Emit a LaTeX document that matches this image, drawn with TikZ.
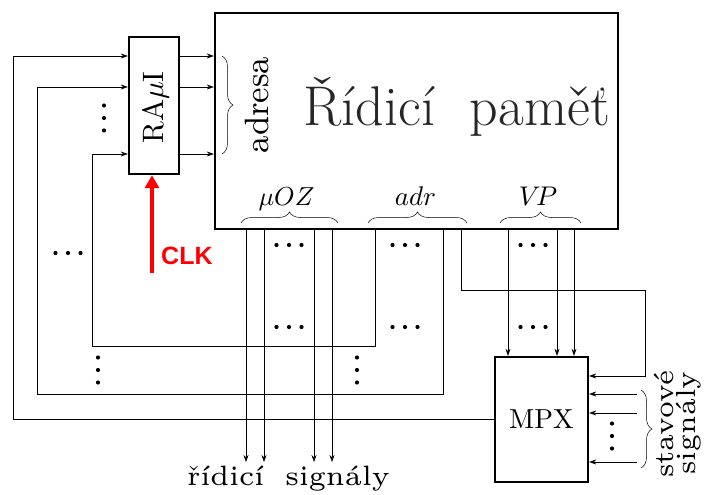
\documentclass[tikz,border=0pt]{standalone}
\usepackage{fontspec}
\newfontfamily\clkfont{Liberation Sans}
\usetikzlibrary{arrows.meta, positioning, decorations.pathreplacing}

% text set at a small design size, then enlarged
\newcommand{\bigtxt}[3]{\scalebox{#2}{\fontsize{#1}{#1}\selectfont #3}}

\begin{document}
\begin{tikzpicture}[x=1pt, y=-1pt,
    box/.style={draw, line width=2.4pt, inner sep=0pt},
    wire/.style={line width=0.6pt},
    arrow/.style={wire, -{Stealth[length=7pt, width=5pt]}},
    clkarrow/.style={red, line width=4.5pt, -{Triangle[length=13pt, width=14pt]}},
    brace/.style={decorate, decoration={brace, amplitude=11pt}, line width=0.5pt},
    lbl/.style={inner sep=0pt},
    dot/.style={circle, fill, inner sep=0pt, minimum size=4.2pt},
]
\useasboundingbox (0,0) rectangle (705,495);

% Boxes
\node[box, minimum width=403pt, minimum height=216pt] (mem) at (416.5,121) {};
\node[box, minimum width=50pt, minimum height=137pt] (ra) at (154,105.5) {};
\node[box, minimum width=93pt, minimum height=125pt] (mpx) at (541.5,419.5) {};

% Texts
\node[lbl, anchor=base, text=black!85, font=\fontsize{56}{60}\selectfont] (title) at (457,125) {Řídicí\hspace{0.62em}paměť};
\node[lbl, rotate=90, anchor=base] (ralbl) at (163,107.5) {\bigtxt{10}{2.95}{RA$\mu$I}};
\node[lbl] (mpxlbl) at (mpx) {\bigtxt{10}{2.75}{MPX}};
\node[lbl, rotate=90, anchor=base] (adresa) at (268,105) {\bigtxt{9}{3.75}{adresa}};
\node[lbl, anchor=base] (muoz) at (286.5,205) {\bigtxt{10}{2.6}{$\mu OZ$}};
\node[lbl, anchor=base] (adr) at (415.5,205) {\bigtxt{10}{2.7}{$adr$}};
\node[lbl, anchor=base] (vp) at (538,205) {\bigtxt{10}{2.7}{$V\mkern-3mu P$}};
\node[lbl, anchor=base] (ridsig) at (288.5,485) {\bigtxt{6}{4.667}{řídicí\hspace{0.75em}signály}};
\node[lbl, rotate=90, anchor=base] (stav) at (673,424) {\bigtxt{6}{4.6}{stavové}};
\node[lbl, rotate=90, anchor=base] (sig) at (695,423) {\bigtxt{6}{4.6}{signály}};
\node[lbl, anchor=base west, text=red, font=\clkfont\bfseries\fontsize{25}{28}\selectfont] (clk) at (161,264) {CLK};

% Register <-> memory
\foreach \y/\n in {56/1, 87/2, 154/3} {
  \coordinate (in\n) at (ra.west |- 0,\y);
  \coordinate (out\n) at (ra.east |- 0,\y);
  \draw[arrow] (out\n) -- (mem.west |- out\n);
}
\coordinate (clktail) at (152,273);
\draw[clkarrow] (clktail) -- (ra.south -| clktail);

% Feedback loops
\draw[arrow] (mpx.west) -| (in1 -| 13,0) -- (in1);
\draw[arrow] (mem.south -| 443,0) -- (443,394) -| (in2 -| 37,0) -- (in2);
\draw[arrow] (mem.south -| 375,0) -- (375,346) -| (in3 -| 92,0) -- (in3);
\draw[arrow] (mem.south -| 461,0) -- (461,290) -| (645,376) -- (mpx.east |- 0,376);

% Control signals
\foreach \x in {246,264,314,332}
  \draw[arrow] (mem.south -| \x,0) -- (\x,462);
% VP to multiplexer
\foreach \x in {508,557,574}
  \draw[arrow] (mem.south -| \x,0) -- (mpx.north -| \x,0);
% Status signals
\foreach \y in {394,413,462}
  \draw[arrow] (637,\y) -- (mpx.east |- 0,\y);

% Braces
\draw[brace] (222,56) -- (222,154);
\draw[brace] (241,223) -- (338,223);
\draw[brace] (368,223) -- (467,223);
\draw[brace] (500,223) -- (581,223);
\draw[brace] (641,390) -- (641,468);

% Dots
\foreach \cx/\cy in {289/245, 289/327, 405/245, 405/327, 533/245, 533/327, 68/253}
  \foreach \d in {-12.5,0,12.5}
    \node[dot] at (\cx+\d,\cy) {};
\foreach \cx/\cy in {104/118, 98/370, 357/370, 612/436}
  \foreach \d in {-12.5,0,12.5}
    \node[dot] at (\cx,\cy+\d) {};
\end{tikzpicture}
\end{document}
